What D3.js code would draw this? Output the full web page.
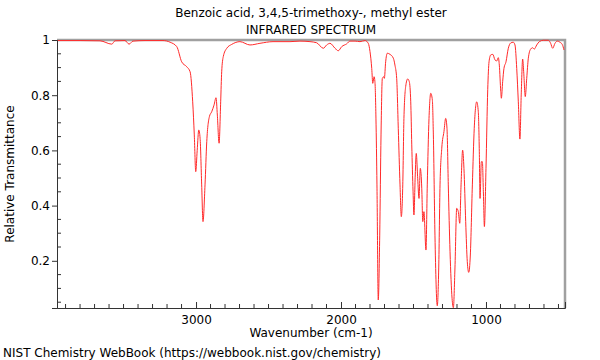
<!DOCTYPE html>
<html>
<head>
<meta charset="utf-8">
<title>IR spectrum</title>
<script src="https://cdn.jsdelivr.net/npm/d3@7"></script>
<style>
    body { margin: 0; background: #fff; }
    svg text { font-family: "DejaVu Sans", sans-serif; fill: #000; }
</style>
</head>
<body>
<svg id="chart" width="600" height="360"></svg>
<script>
// wavenumber (cm-1), high to low
var wavenumber = [3959, 3800, 3662, 3581, 3559, 3490, 3462, 3435, 3352, 3228,
    3179, 3133, 3099, 3064, 3041, 3023, 3012, 3002, 2992, 2981, 2972, 2961, 2952, 2938,
    2926, 2908, 2892, 2876, 2862, 2853, 2841, 2830, 2823, 2812, 2788, 2754, 2697, 2628,
    2559, 2469, 2352, 2283, 2214, 2168, 2122, 2099, 2076, 2041, 2019, 1995, 1961, 1938,
    1903, 1869, 1834, 1812, 1800, 1788, 1781, 1772, 1766, 1759, 1752, 1743, 1733, 1724,
    1715, 1705, 1701, 1692, 1681, 1662, 1639, 1628, 1616, 1605, 1593, 1584, 1574, 1566,
    1554, 1540, 1529, 1519, 1512, 1503, 1497, 1488, 1481, 1471, 1462, 1453, 1443, 1436,
    1428, 1414, 1405, 1393, 1381, 1370, 1363, 1352, 1336, 1326, 1317, 1305, 1290, 1278,
    1269, 1260, 1248, 1234, 1225, 1214, 1202, 1191, 1181, 1172, 1161, 1152, 1140, 1129,
    1119, 1108, 1094, 1081, 1064, 1053, 1046, 1041, 1032, 1025, 1018, 1011, 1000, 988,
    979, 967, 953, 938, 926, 915, 908, 898, 894, 885, 876, 862, 846, 830, 812, 800, 788,
    777, 766, 757, 747, 740, 729, 719, 708, 692, 678, 667, 650, 632, 605, 570, 554, 540,
    524, 508, 490, 474, 462];

// relative transmittance at each wavenumber
var transmittance = [0.998, 0.998, 0.997, 0.985, 0.997, 0.998, 0.985, 0.996, 0.998, 0.998,
    0.992, 0.976, 0.921, 0.903, 0.885, 0.776, 0.656, 0.523, 0.600, 0.674, 0.644, 0.475, 0.342, 0.475,
    0.632, 0.722, 0.740, 0.764, 0.791, 0.728, 0.626, 0.776, 0.885, 0.940, 0.970, 0.984, 0.994, 0.982,
    0.988, 0.994, 0.994, 0.996, 0.994, 0.990, 0.970, 0.982, 0.988, 0.970, 0.961, 0.976, 0.986, 0.996,
    0.996, 0.994, 0.998, 0.988, 0.958, 0.897, 0.843, 0.867, 0.849, 0.717, 0.475, 0.058, 0.293, 0.656,
    0.861, 0.867, 0.861, 0.921, 0.952, 0.948, 0.934, 0.909, 0.861, 0.680, 0.475, 0.360, 0.475, 0.716,
    0.831, 0.859, 0.849, 0.776, 0.620, 0.450, 0.366, 0.511, 0.589, 0.499, 0.426, 0.535, 0.463, 0.342,
    0.378, 0.239, 0.475, 0.716, 0.807, 0.783, 0.656, 0.293, 0.037, 0.174, 0.475, 0.608, 0.668, 0.716,
    0.680, 0.475, 0.233, 0.064, 0.030, 0.174, 0.390, 0.378, 0.336, 0.475, 0.601, 0.535, 0.342, 0.197,
    0.158, 0.221, 0.475, 0.680, 0.776, 0.740, 0.595, 0.426, 0.559, 0.559, 0.450, 0.324, 0.535, 0.820,
    0.921, 0.946, 0.948, 0.928, 0.924, 0.936, 0.909, 0.813, 0.789, 0.849, 0.897, 0.921, 0.970, 0.989, 0.992, 0.982, 0.897,
    0.776, 0.641, 0.801, 0.931, 0.885, 0.795, 0.861, 0.934, 0.967, 0.972, 0.967, 0.982, 0.994, 0.999, 0.999, 0.988,
    0.970, 0.988, 0.996, 0.992, 0.984, 0.964];

var yTicks = [0.2, 0.4, 0.6, 0.8, 1];
var xTicks = [3000, 2000, 1000];

var title = ["Benzoic acid, 3,4,5-trimethoxy-, methyl ester", "INFRARED SPECTRUM"];
var xLabel = "Wavenumber (cm-1)";
var yLabel = "Relative Transmittance";
var footer = "NIST Chemistry WebBook (https://webbook.nist.gov/chemistry)";

(function () {
    var data = wavenumber.map(function (w, i) {
        return {w: w, t: transmittance[i]};
    });

    var pLeft = 57, pRight = 565, pTop = 40, pBottom = 308;
    var svg = d3.select("#chart");

    var x = d3.scaleLinear().domain([3959, 455]).range([pLeft, pRight]);
    var y = d3.scaleLinear().domain([0.029, 1]).range([pBottom, pTop]);

    // minor ticks
    var xMinor = d3.range(3900, 455, -100).filter(function (d) { return d % 1000 !== 0; });
    var yMinor = d3.range(0.05, 1.0, 0.05).filter(function (d) {
        return Math.abs(Math.round(d * 5) - d * 5) > 1e-6;
    });

    // top and right frame
    svg.append("path")
        .attr("d", "M" + pLeft + "," + pTop + "H" + pRight + "V" + pBottom)
        .attr("fill", "none")
        .attr("stroke", "#a0a0a0")
        .attr("stroke-width", 2.5);

    // spectrum
    svg.append("path")
        .datum(data)
        .attr("fill", "none")
        .attr("stroke", "#ff2a2a")
        .attr("stroke-width", 1)
        .attr("d", d3.line()
            .x(function (d) { return x(d.w); })
            .y(function (d) { return y(d.t); })
            .curve(d3.curveMonotoneX));

    // x axis, ticks pointing into the plot
    var gx = svg.append("g").attr("transform", "translate(0," + pBottom + ")");
    gx.call(d3.axisBottom(x).tickValues(xTicks).tickSize(-6).tickPadding(7).tickFormat(d3.format("d")));
    gx.selectAll(".minor").data(xMinor).enter().append("line")
        .attr("class", "minor")
        .attr("x1", x).attr("x2", x)
        .attr("y1", 0).attr("y2", -4)
        .attr("stroke", "#333");

    // y axis, major ticks outside, minor inside
    var gy = svg.append("g").attr("transform", "translate(" + pLeft + ",0)");
    gy.call(d3.axisLeft(y).tickValues(yTicks).tickSize(5).tickPadding(2).tickFormat(function (d) {
        return d === 1 ? "1" : d3.format(".1f")(d);
    }));
    gy.selectAll(".minor").data(yMinor).enter().append("line")
        .attr("class", "minor")
        .attr("x1", 0).attr("x2", 4)
        .attr("y1", y).attr("y2", y)
        .attr("stroke", "#333");

    [gx, gy].forEach(function (g) {
        g.selectAll("text").attr("font-size", 12).attr("font-family", "DejaVu Sans");
        g.selectAll(".domain, .tick line").attr("stroke", "#333");
    });

    // texts
    svg.selectAll(".title").data(title).enter().append("text")
        .attr("class", "title")
        .attr("x", 311)
        .attr("y", function (d, i) { return 17 + i * 17; })
        .attr("text-anchor", "middle")
        .attr("font-size", 12)
        .text(function (d) { return d; });

    svg.append("text")
        .attr("x", 311).attr("y", 337)
        .attr("text-anchor", "middle")
        .attr("font-size", 12)
        .text(xLabel);

    svg.append("text")
        .attr("transform", "translate(14,174) rotate(-90)")
        .attr("text-anchor", "middle")
        .attr("font-size", 12)
        .text(yLabel);

    svg.append("text")
        .attr("x", 3).attr("y", 357)
        .attr("font-size", 12)
        .text(footer);
})();
</script>
</body>
</html>
